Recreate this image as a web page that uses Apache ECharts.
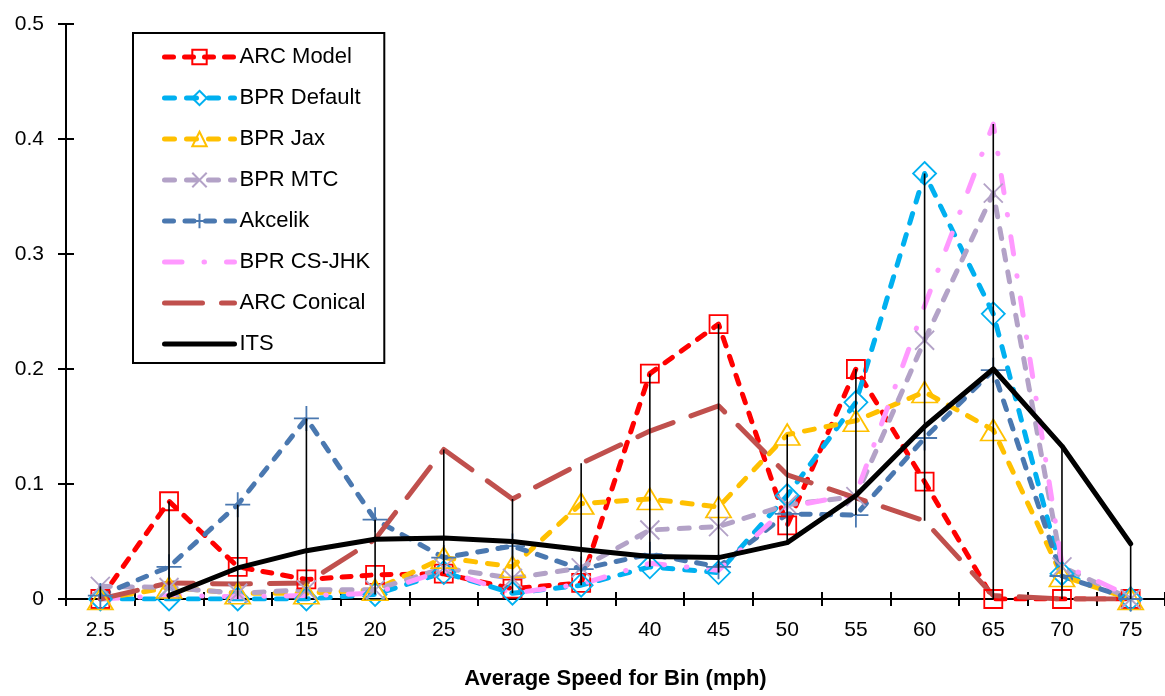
<!DOCTYPE html>
<html><head><meta charset="utf-8">
<script src="https://cdn.jsdelivr.net/npm/echarts@6/dist/echarts.min.js"></script>
<style>html,body{margin:0;padding:0;background:#fff}#c{width:1165px;height:696px}</style>
</head><body><div id="c"></div>
<script>
const categories = ['2.5','5','10','15','20','25','30','35','40','45','50','55','60','65','70','75'];
const yTicks = [0, 0.1, 0.2, 0.3, 0.4, 0.5];
const arcModel   = [0, 0.085, 0.028, 0.017, 0.021, 0.022, 0.009, 0.014, 0.196, 0.239, 0.064, 0.200, 0.102, 0, 0, 0];
const bprDefault = [0, 0, 0, 0, 0.004, 0.023, 0.005, 0.012, 0.028, 0.023, 0.090, 0.171, 0.370, 0.248, 0.022, 0];
const bprJax     = [0, 0.010, 0.005, 0.005, 0.008, 0.036, 0.028, 0.083, 0.087, 0.080, 0.143, 0.155, 0.180, 0.147, 0.020, 0];
const bprMTC     = [0.011, 0.010, 0.005, 0.008, 0.008, 0.027, 0.018, 0.027, 0.060, 0.063, 0.082, 0.089, 0.225, 0.353, 0.028, 0];
const akcelik    = [0.003, 0.028, 0.082, 0.157, 0.069, 0.036, 0.046, 0.026, 0.039, 0.028, 0.074, 0.073, 0.140, 0.199, 0.020, 0];
const bprCSJHK   = [0, 0.003, 0.002, 0.003, 0.005, 0.025, 0.005, 0.013, 0.031, 0.025, 0.080, 0.091, 0.255, 0.413, 0.030, 0.002];
const arcConical = [0, 0.014, 0.013, 0.014, 0.052, 0.130, 0.087, 0.118, 0.146, 0.168, 0.108, 0.088, 0.068, 0.003, 0, 0];
const its        = [null, 0.003, 0.027, 0.042, 0.052, 0.053, 0.050, 0.043, 0.037, 0.036, 0.049, 0.090, 0.150, 0.200, 0.133, 0.048];
const seriesNames = ['ARC Model','BPR Default','BPR Jax','BPR MTC','Akcelik','BPR CS-JHK','ARC Conical','ITS'];

const FONT = '"Liberation Sans", Arial, sans-serif';
const allSeries = [arcModel, bprDefault, bprJax, bprMTC, akcelik, bprCSJHK, arcConical, its];
const hiLo = categories.map((c, i) => {
  const vals = allSeries.map(s => s[i]).filter(v => v !== null && v !== undefined);
  return [i, Math.min(...vals), Math.max(...vals)];
});

const X_PATH = 'path://M0,0L10,10M10,0L0,10';
const PLUS_PATH = 'path://M5,0L5,10M0,5L10,5';
const LW = 5;

function ls(name, data, color, dash, symbol, size, extra) {
  const s = {
    name, type: 'line', data,
    symbol: symbol || 'none',
    symbolSize: size || 0,
    showSymbol: !!symbol,
    lineStyle: { color, width: LW, type: dash, cap: 'round', join: 'round' },
    itemStyle: { color: 'rgba(0,0,0,0)', borderColor: color, borderWidth: 1.8 },
    emphasis: { disabled: true },
    z: 2
  };
  if (!symbol) s.itemStyle = { color };
  return Object.assign(s, extra || {});
}

const series = [
  ls(seriesNames[0], arcModel, '#FF0000', [9, 11], 'rect', 18),
  ls(seriesNames[1], bprDefault, '#00B0F0', [10, 12], 'diamond', [23, 23]),
  ls(seriesNames[2], bprJax, '#FFC000', [10, 12], 'triangle', [25, 21]),
  ls(seriesNames[3], bprMTC, '#B3A2C7', [10, 12], X_PATH, 19),
  ls(seriesNames[4], akcelik, '#4A78B0', [9, 11.5], PLUS_PATH, 25),
  ls(seriesNames[5], bprCSJHK, '#FF99FF', [17.5, 22, 0.5, 22]),
  ls(seriesNames[6], arcConical, '#C0504D', [38, 19]),
  ls(seriesNames[7], its, '#000000', 'solid', null, 0, { z: 4 }),
  {
    name: 'hilo', type: 'custom', data: hiLo, silent: true, z: 3,
    encode: { x: 0, y: [1, 2] },
    renderItem(params, api) {
      const p1 = api.coord([api.value(0), api.value(1)]);
      const p2 = api.coord([api.value(0), api.value(2)]);
      return { type: 'line', shape: { x1: p1[0], y1: p1[1], x2: p2[0], y2: p2[1] },
               style: { stroke: '#000', lineWidth: 1.6 } };
    }
  }
];

const noSymbol = { 'BPR CS-JHK': 1, 'ARC Conical': 1, 'ITS': 1 };
const legendData = seriesNames.map(n => noSymbol[n]
  ? { name: n, itemStyle: { opacity: 0 }, lineStyle: { width: LW } }
  : { name: n, lineStyle: { width: LW } });

const chart = echarts.init(document.getElementById('c'), null, { renderer: 'canvas' });
chart.setOption({
  animation: false,
  backgroundColor: '#fff',
  textStyle: { fontFamily: FONT },
  grid: { left: 66, right: 0, top: 24, bottom: 97, containLabel: false },
  legend: {
    data: legendData,
    orient: 'vertical', left: 133, top: 33,
    padding: [13, 14, 8, 29],
    itemWidth: 70, itemHeight: 18, itemGap: 19,
    borderColor: '#000', borderWidth: 2, backgroundColor: '#fff',
    textStyle: { fontFamily: FONT, fontSize: 22, color: '#000' },
    selectedMode: false
  },
  xAxis: [{
    type: 'category', data: categories, boundaryGap: true, position: 'bottom',
    axisLine: { show: true, lineStyle: { color: '#000', width: 2 } },
    axisTick: { show: true, inside: false, length: 7, lineStyle: { color: '#000', width: 2 } },
    axisLabel: { fontFamily: FONT, fontSize: 21, color: '#000', margin: 21 },
    name: 'Average Speed for Bin (mph)', nameLocation: 'middle', nameGap: 69,
    nameTextStyle: { fontFamily: FONT, fontSize: 22, fontWeight: 'bold', color: '#000' },
    splitLine: { show: false }
  }, {
    type: 'category', data: categories, boundaryGap: true, position: 'bottom',
    axisLine: { show: false },
    axisTick: { show: true, inside: true, length: 7, lineStyle: { color: '#000', width: 2 } },
    axisLabel: { show: false }, splitLine: { show: false }
  }],
  yAxis: [{
    type: 'value', min: yTicks[0], max: yTicks[yTicks.length - 1], interval: 0.1, position: 'left',
    axisLine: { show: true, lineStyle: { color: '#000', width: 2 } },
    axisTick: { show: true, inside: false, length: 8, lineStyle: { color: '#000', width: 2 } },
    axisLabel: { fontFamily: FONT, fontSize: 21, color: '#000', margin: 22,
      formatter: v => (v === 0 ? '0' : (+v).toFixed(1)) },
    splitLine: { show: false }
  }, {
    type: 'value', min: yTicks[0], max: yTicks[yTicks.length - 1], interval: 0.1, position: 'left',
    axisLine: { show: false },
    axisTick: { show: true, inside: true, length: 8, lineStyle: { color: '#000', width: 2 } },
    axisLabel: { show: false }, splitLine: { show: false }
  }],
  series
});
</script>
</body></html>
